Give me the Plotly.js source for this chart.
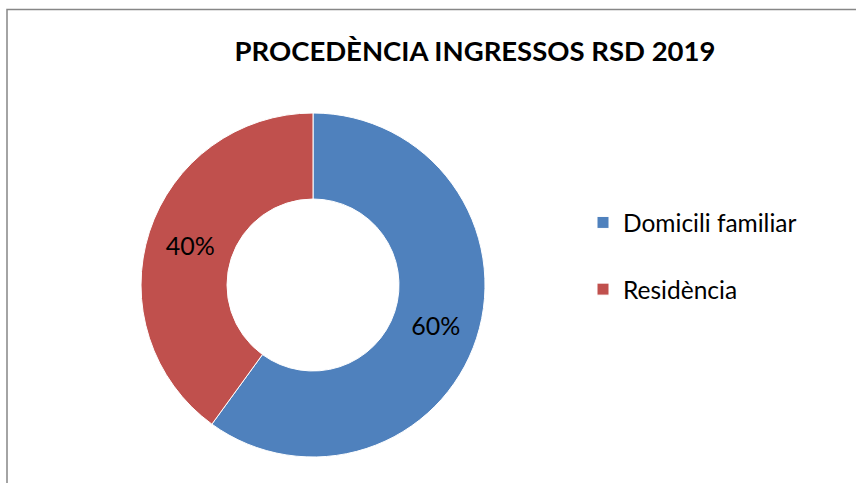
<!DOCTYPE html>
<html>
<head>
<meta charset="utf-8">
<script src="https://cdn.plot.ly/plotly-3.0.1.min.js"></script>
<style>html,body{margin:0;padding:0;background:#fff;}#chart{width:856px;height:483px;}</style>
</head>
<body>
<div id="chart"></div>
<script>
const categories = ["Domicili familiar", "Residència"];
const values = [60, 40];
const colors = ["#4F81BD", "#C0504D"];
const chartTitle = "PROCEDÈNCIA INGRESSOS RSD 2019";

const W = 856, H = 483;
const trace = {
  type: "pie",
  labels: categories.map(c => c + "<br> "),
  values: values,
  sort: false,
  direction: "clockwise",
  rotation: 0,
  hole: 0.5,
  marker: {colors: colors, line: {color: "#ffffff", width: 1}},
  textinfo: "percent",
  texttemplate: "%{percent:.0%}",
  textposition: "inside",
  insidetextorientation: "horizontal",
  textfont: {family: "Lato, sans-serif", size: 25, color: "#000000"},
  hoverinfo: "none",
  domain: {x: [141 / W, 485 / W], y: [1 - 457 / H, 1 - 113 / H]}
};

const layout = {
  width: W, height: H,
  margin: {l: 0, r: 0, t: 0, b: 0},
  paper_bgcolor: "#ffffff",
  plot_bgcolor: "#ffffff",
  font: {family: "Lato, sans-serif", color: "#000000"},
  title: {
    text: "<b>" + chartTitle + "</b>",
    font: {family: "Lato, sans-serif", size: 27.5, color: "#000000"},
    x: 475 / W, xref: "paper", xanchor: "center",
    y: 1 - 51 / H, yref: "container", yanchor: "middle"
  },
  showlegend: true,
  legend: {
    x: 583 / W, xanchor: "left",
    y: 1 - 272 / H, yanchor: "middle",
    valign: "top",
    font: {family: "Lato, sans-serif", size: 24.5, color: "#000000"},
    bgcolor: "rgba(0,0,0,0)"
  },
  shapes: [{
    type: "rect", xref: "paper", yref: "paper",
    x0: 7 / W, x1: 1.02, y0: 1 - 9.5 / H, y1: -0.02,
    line: {color: "#878787", width: 1.5}, fillcolor: "rgba(0,0,0,0)"
  }]
};

Plotly.newPlot("chart", [trace], layout, {displayModeBar: false, staticPlot: true});
</script>
</body>
</html>
